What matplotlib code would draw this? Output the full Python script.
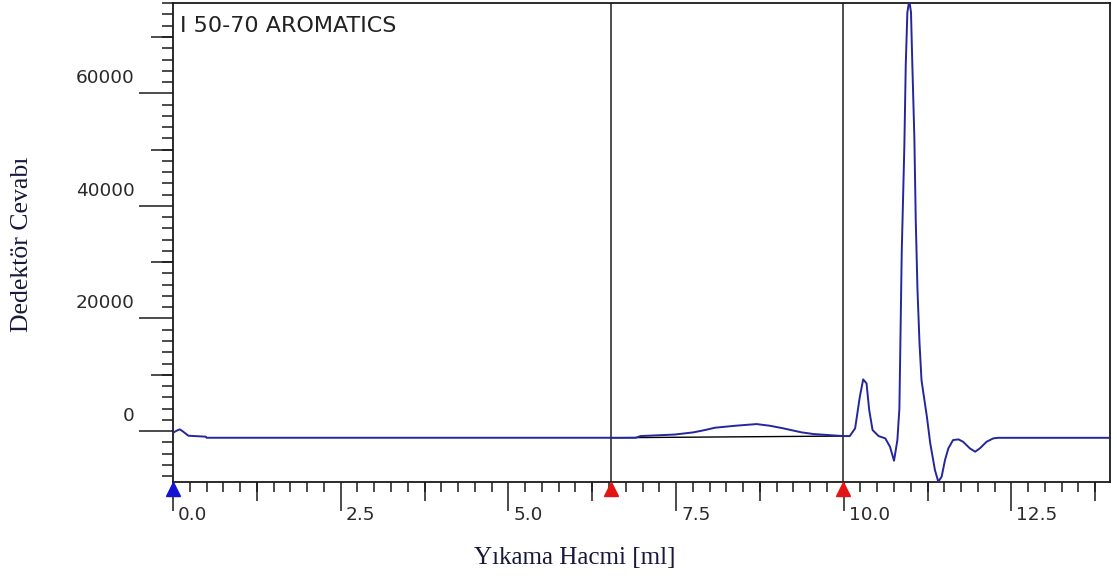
import matplotlib
matplotlib.use("Agg")
import matplotlib.pyplot as plt
from matplotlib.ticker import MultipleLocator, FixedLocator
from matplotlib.transforms import ScaledTranslation, blended_transform_factory

# Elution trace: volume [ml] vs detector response
volume = [0.00, 0.06, 0.10, 0.14, 0.23, 0.49, 0.50, 6.90, 6.97, 7.48, 7.76,
          7.93, 8.08, 8.38, 8.70, 8.90, 9.10, 9.37, 9.55, 9.77, 9.99, 10.09,
          10.17, 10.24, 10.29, 10.34, 10.38, 10.43, 10.52, 10.62, 10.69, 10.75,
          10.80, 10.83, 10.845, 10.865, 10.904, 10.925, 10.949, 10.978, 11.003,
          11.023, 11.053, 11.074, 11.10, 11.13, 11.16, 11.24, 11.29, 11.36,
          11.41, 11.46, 11.51, 11.56, 11.63, 11.71, 11.78, 11.88, 11.96, 12.03,
          12.13, 12.23, 12.30, 13.97]
response = [-300, 100, 300, 0, -830, -1000, -1190, -1190, -890, -620, -230,
            180, 590, 940, 1240, 940, 480, -230, -530, -710, -890, -890,
            480, 6090, 9180, 8470, 3730, 180, -890, -1300, -2790, -5270,
            -1600, 4000, 15800, 31800, 50600, 65100, 74400, 76500, 74400,
            65100, 52200, 37400, 25000, 15600, 9000, 2540, -2180, -6920,
            -9000, -8100, -5150, -3070, -1600, -1480, -1900, -3070, -3670, -3070,
            -1900, -1300, -1200, -1200]

# Integration baseline under the broad band
base_x = [6.53, 9.99]
base_y = [-1190, -890]

# Fraction cut points and injection mark
cut_marks = [6.53, 9.99]
start_mark = [0.0]

x_ticks = [0.0, 2.5, 5.0, 7.5, 10.0, 12.5]
x_tick_labels = ["0.0", "2.5", "5.0", "7.5", "10.0", "12.5"]
x_mid_ticks = [1.25, 3.75, 6.25, 8.75, 11.25, 13.75]
y_ticks = [0, 20000, 40000, 60000]
y_tick_labels = ["0", "20000", "40000", "60000"]
y_mid_ticks = [-10000, 10000, 30000, 50000, 70000]

fig = plt.figure(figsize=(11.17, 5.83), dpi=100)
ax = fig.add_axes([0.15488, 0.17324, 0.83885, 0.82247])

ax.plot(volume, response, color="#25259c", lw=1.4, zorder=3)
ax.plot(base_x, base_y, color="black", lw=1.0, zorder=2)
for xv in cut_marks:
    ax.axvline(xv, color="#1e1e1e", lw=1.1, zorder=2)

ax.set_xlim(0, 13.97)
ax.set_ylim(-9050, 76130)

for sp in ax.spines.values():
    sp.set_linewidth(1.3)
    sp.set_color("#1a1a1a")

tick_color = "#2a2a2a"
ax.set_xticks(x_ticks, x_tick_labels)
ax.set_yticks(y_ticks, y_tick_labels)
ax.xaxis.set_minor_locator(MultipleLocator(0.25))
ax.yaxis.set_minor_locator(MultipleLocator(2000))

ax.tick_params(axis="x", which="major", length=20.9, width=1.1, pad=2.9,
               labelsize=13.3, labelcolor=tick_color, color="#1a1a1a")
ax.tick_params(axis="x", which="minor", length=7.2, width=1.1, color="#1a1a1a")
ax.tick_params(axis="y", which="major", length=24.5, width=1.1, pad=3.0,
               labelsize=13.3, labelcolor=tick_color, color="#1a1a1a")
ax.tick_params(axis="y", which="minor", length=7.9, width=1.1, color="#1a1a1a")

# Intermediate-length ticks
secx = ax.secondary_xaxis("bottom")
secx.xaxis.set_major_locator(FixedLocator(x_mid_ticks))
secx.tick_params(length=13.7, width=1.1, labelbottom=False, color="#1a1a1a")
secx.spines["bottom"].set_visible(False)
secy = ax.secondary_yaxis("left")
secy.yaxis.set_major_locator(FixedLocator(y_mid_ticks))
secy.tick_params(length=15.8, width=1.1, labelleft=False, color="#1a1a1a")
secy.spines["left"].set_visible(False)

# Tick labels sit beside their ticks
dx = ScaledTranslation(0.05, 0, fig.dpi_scale_trans)
for lab in ax.get_xticklabels():
    lab.set_ha("left")
    lab.set_va("center")
    lab.set_transform(lab.get_transform() + dx)
dy = ScaledTranslation(0, 0.17, fig.dpi_scale_trans)
for lab in ax.get_yticklabels():
    lab.set_transform(lab.get_transform() + dy)

# Markers under the axis
trans = blended_transform_factory(ax.transData, ax.transAxes)
ax.plot(start_mark, [-0.0146] * len(start_mark), ls="none", marker="^",
        ms=10, color="#1414d2", transform=trans, clip_on=False, zorder=5)
ax.plot(cut_marks, [-0.0146] * len(cut_marks), ls="none", marker="^",
        ms=10, color="#e31414", transform=trans, clip_on=False, zorder=5)

ax.text(0.0075, 0.952, "I 50-70 AROMATICS", transform=ax.transAxes,
        ha="left", va="center", fontsize=16, color="#222222")

label_color = "#18183c"
fig.text(0.5148, 0.0429, "Yıkama Hacmi [ml]", ha="center", va="center",
         fontsize=18, family="Liberation Serif", color=label_color)
fig.text(0.0197, 0.581, "Dedektör Cevabı", ha="center", va="center",
         rotation=90, fontsize=18.5, family="Liberation Serif", color=label_color)

fig.savefig("out.png", dpi=100)
